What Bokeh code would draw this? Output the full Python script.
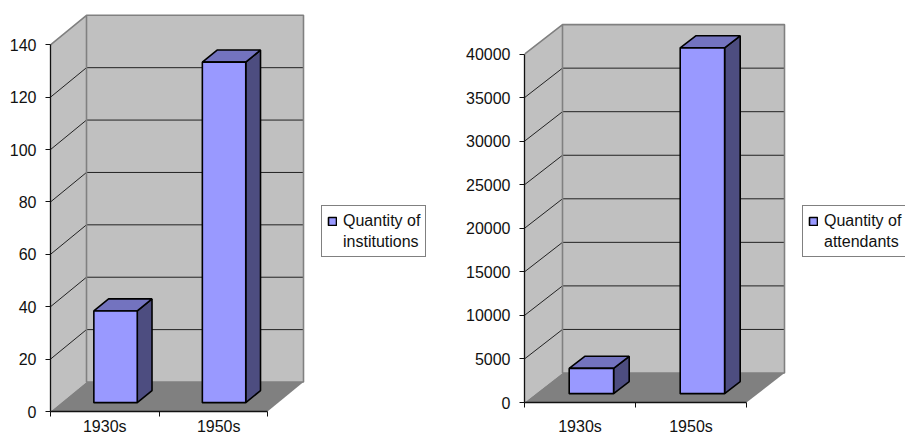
from bokeh.plotting import figure
from bokeh.models import FixedTicker, Legend, LegendItem, Range1d
from bokeh.embed import file_html
from bokeh.resources import INLINE

categories = ["1930s", "1950s"]
institutions = [35, 130]
attendants = [2900, 39700]
institution_ticks = [0, 20, 40, 60, 80, 100, 120, 140]
attendant_ticks = [0, 5000, 10000, 15000, 20000, 25000, 30000, 35000, 40000]
FONT = "Liberation Sans"
TEXT = "#111111"


def panel(values, ticks, lines, page_x, fig_w, left, bottom, cat_px, full_px, depth_px, rise_px,
          label_pos, standoff, legend_xy):
    height = 437
    vmax = ticks[-1]
    frame_h = height - bottom
    frame_w = fig_w - left
    p = figure(width=fig_w, height=height, output_backend="svg", toolbar_location=None,
               x_range=Range1d(0, frame_w / cat_px),
               y_range=Range1d(0, vmax * frame_h / full_px),
               min_border_left=left, min_border_right=0, min_border_top=0, min_border_bottom=bottom,
               outline_line_color=None, background_fill_color="white",
               styles={"position": "absolute", "left": f"{page_x}px", "top": "0px"})
    p.grid.visible = False
    ddx = depth_px / cat_px
    ddy = rise_px * vmax / full_px

    def poly(points):
        return [q[0] + q[2] * ddx for q in points], [q[1] + q[2] * ddy for q in points]

    n = len(values)
    wall_c, floor_c, edge = "#C0C0C0", "#808080", "#808080"
    for pts, c in [([(0, 0, 0), (0, 0, 1), (0, vmax, 1), (0, vmax, 0)], wall_c),
                   ([(0, 0, 1), (n, 0, 1), (n, vmax, 1), (0, vmax, 1)], wall_c),
                   ([(0, 0, 0), (n, 0, 0), (n, 0, 1), (0, 0, 1)], floor_c)]:
        xs, ys = poly(pts)
        p.patch(xs, ys, fill_color=c, line_color=None)
    for t in ticks[1:-1]:
        xs, ys = poly([(0, t, 0), (0, t, 1), (n, t, 1)])
        p.line(xs, ys, line_color="#222222", line_width=1)
    xs, ys = poly([(0, vmax, 0), (0, vmax, 1), (n, vmax, 1), (n, 0, 1), (0, 0, 1), (0, vmax, 1)])
    p.line(xs, ys, line_color=edge, line_width=1.6)

    bw, d0, d1 = 0.4, 0.3, 0.71
    front_r = None
    for i, v in enumerate(values):
        a, b = i + 0.5 - bw / 2, i + 0.5 + bw / 2
        xs, ys = poly([(b, 0, d0), (b, 0, d1), (b, v, d1), (b, v, d0)])
        p.patch(xs, ys, fill_color="#4D4D80", line_color="black", line_width=1.6)
        xs, ys = poly([(a, v, d0), (b, v, d0), (b, v, d1), (a, v, d1)])
        p.patch(xs, ys, fill_color="#7373BF", line_color="black", line_width=1.6)
        xs, ys = poly([(a, 0, d0), (b, 0, d0), (b, v, d0), (a, v, d0)])
        r = p.patch(xs, ys, fill_color="#9999FF", line_color="black", line_width=1.6)
        front_r = front_r or r
    blank = p.patch([], [], fill_color=None, line_color=None)

    ya = p.yaxis[0]
    ya.ticker = FixedTicker(ticks=ticks)
    ya.bounds = (0, vmax)
    ya.axis_line_color = TEXT
    ya.axis_line_width = 1.3
    ya.major_tick_line_color = TEXT
    ya.major_tick_out = 5
    ya.major_tick_in = 0
    ya.minor_tick_line_color = None
    ya.major_label_standoff = 9
    ya.major_label_text_font = FONT
    ya.major_label_text_font_size = "16px"
    ya.major_label_text_color = TEXT

    xa = p.xaxis[0]
    xa.ticker = FixedTicker(ticks=label_pos, minor_ticks=list(range(n + 1)))
    xa.major_label_overrides = {pos: c for pos, c in zip(label_pos, categories)}
    xa.bounds = (0, n)
    xa.axis_line_color = TEXT
    xa.axis_line_width = 1.3
    xa.major_tick_line_color = None
    xa.major_tick_out = 5
    xa.major_tick_in = 0
    xa.minor_tick_line_color = TEXT
    xa.minor_tick_out = 5
    xa.minor_tick_in = 0
    xa.major_label_standoff = standoff
    xa.major_label_text_font = FONT
    xa.major_label_text_font_size = "16px"
    xa.major_label_text_color = TEXT

    lg = Legend(items=[LegendItem(label=lines[0], renderers=[front_r]),
                       LegendItem(label=lines[1], renderers=[blank])],
                location=legend_xy,
                border_line_color="#808080", border_line_width=1.2, background_fill_color="white",
                background_fill_alpha=1, border_line_alpha=1,
                label_text_font=FONT, label_text_font_size="16px", label_text_color=TEXT,
                glyph_width=10, glyph_height=10, padding=5, margin=0, label_standoff=6,
                spacing=2, label_height=19)
    p.add_layout(lg)
    return p


p1 = panel(institutions, institution_ticks, ["Quantity of", "institutions"], 0, 468, 50, 26, 108.5, 366.7, 36, 29.5,
           [0.5, 1.55], 1, (271, 154))
p2 = panel(attendants, attendant_ticks, ["Quantity of", "attendants"], 462, 443, 62, 35, 111, 348.4, 38, 29.5,
           [0.5, 1.5], 10, (278, 145))
open("out.html", "w").write(file_html([p1, p2], INLINE))
